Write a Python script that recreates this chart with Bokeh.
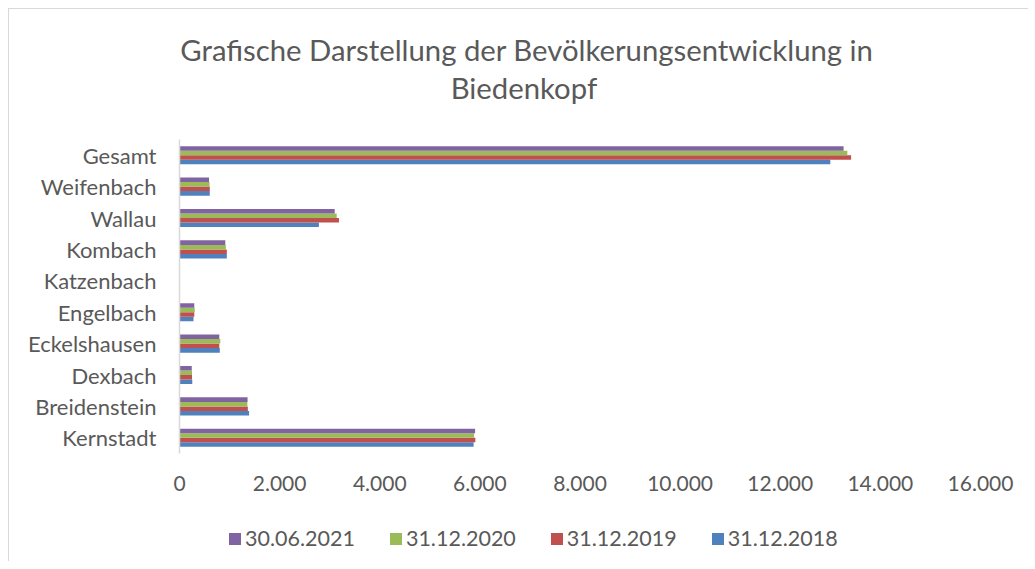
from bokeh.plotting import figure
from bokeh.layouts import column
from bokeh.models import FactorRange, Range1d, Legend, LegendItem, FixedTicker, ColumnDataSource
from bokeh.transform import dodge
from bokeh.core.properties import value
from bokeh.embed import file_html
from bokeh.resources import INLINE

categories = ["Kernstadt", "Breidenstein", "Dexbach", "Eckelshausen", "Engelbach",
              "Katzenbach", "Kombach", "Wallau", "Weifenbach", "Gesamt"]
v_2018 = [5875, 1390, 255, 805, 280, 0, 945, 2785, 605, 13000]
v_2019 = [5910, 1365, 250, 795, 295, 0, 945, 3185, 605, 13415]
v_2020 = [5885, 1355, 250, 815, 305, 0, 925, 3140, 600, 13340]
v_2021 = [5905, 1360, 245, 795, 295, 0, 915, 3100, 590, 13265]
series_names = ["31.12.2018", "31.12.2019", "31.12.2020", "30.06.2021"]
series_colors = ["#4F81BD", "#C0504D", "#9BBB59", "#8064A2"]
tick_values = [0, 2000, 4000, 6000, 8000, 10000, 12000, 14000, 16000]
tick_labels = ["0", "2.000", "4.000", "6.000", "8.000", "10.000", "12.000", "14.000", "16.000"]
title_lines = ["Grafische Darstellung der Bevölkerungsentwicklung in", "Biedenkopf"]

FONT = "Lato"
TXT = "#595959"
W = 1019

# ---- title strip (frame is aligned with the main chart's frame) ----
pt = figure(width=W, height=100, output_backend="svg", toolbar_location=None,
            x_range=Range1d(170, 970), y_range=Range1d(0, 100),
            x_axis_type=None, y_axis_type=None, min_border=0)
pt.title = None
pt.outline_line_color = None
pt.grid.grid_line_color = None
pt.text(x=[517, 514], y=[60, 22], text=title_lines, text_align="center", text_baseline="middle",
        text_font=value(FONT), text_font_size="29.3px", text_color=TXT)

# ---- main chart ----
src = ColumnDataSource(dict(cat=categories, s2018=v_2018, s2019=v_2019, s2020=v_2020, s2021=v_2021))

p = figure(width=W, height=407, output_backend="svg", toolbar_location=None,
           y_range=FactorRange(factors=categories), x_range=Range1d(0, 16000),
           min_border_left=170, min_border_right=48, min_border_top=30, min_border_bottom=63)
p.title = None
p.outline_line_color = None
p.xgrid.grid_line_color = None
p.ygrid.grid_line_color = None

bh = 0.144
offsets = [-0.216, -0.072, 0.072, 0.216]
cols = ["s2018", "s2019", "s2020", "s2021"]
for col, off, color in zip(cols, offsets, series_colors):
    p.hbar(y=dodge("cat", off, range=p.y_range), right=col, left=0, height=bh,
           source=src, fill_color=color, line_color=None)

xa = p.xaxis[0]
xa.ticker = FixedTicker(ticks=tick_values)
xa.major_label_overrides = {v: l for v, l in zip(tick_values, tick_labels)}
xa.axis_line_color = None
xa.major_tick_line_color = None
xa.minor_tick_line_color = None
xa.major_label_text_font = FONT
xa.major_label_text_font_size = "21px"
xa.major_label_text_color = TXT
xa.major_label_standoff = 16

ya = p.yaxis[0]
ya.axis_line_color = "#d9d9d9"
ya.axis_line_width = 1.5
ya.major_tick_line_color = None
ya.minor_tick_line_color = None
ya.major_label_text_font = FONT
ya.major_label_text_font_size = "22px"
ya.major_label_text_color = TXT
ya.major_label_standoff = 17

# ---- legend strip ----
pl = figure(width=W, height=45, output_backend="svg", toolbar_location=None,
            x_range=Range1d(0, 1), y_range=Range1d(0, 1),
            x_axis_type=None, y_axis_type=None, min_border=0)
pl.title = None
pl.outline_line_color = None
pl.grid.grid_line_color = None
lr = []
for color in series_colors:
    # zero-size bar: only carries the legend swatch
    lr.append(pl.hbar(y=[0.5], right=[0], left=0, height=0, fill_color=color, line_color=None))
items = [LegendItem(label=series_names[i], renderers=[lr[i]]) for i in [3, 2, 1, 0]]
legend = Legend(items=items, orientation="horizontal", location=(48, 10),
                glyph_width=15, glyph_height=15, label_standoff=3, spacing=33,
                padding=0, margin=0, border_line_color=None, background_fill_alpha=0,
                label_text_font=FONT, label_text_font_size="21.5px", label_text_color=TXT)
pl.add_layout(legend, "center")

layout = column(pt, p, pl, spacing=0, margin=(8, 0, 0, 8),
                styles={"border-left": "1px solid #d9d9d9", "border-top": "1px solid #d9d9d9"})

open("out.html", "w").write(file_html(layout, INLINE))
